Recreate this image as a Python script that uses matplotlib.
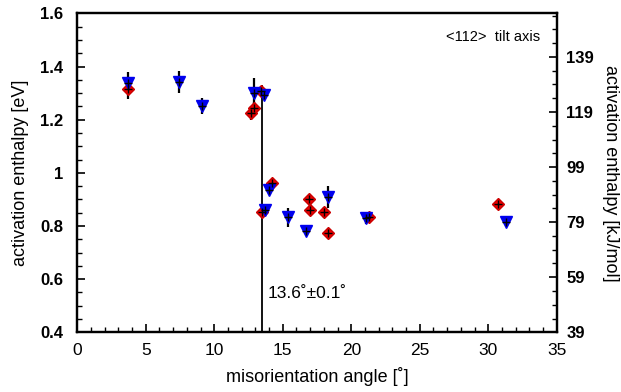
import matplotlib
matplotlib.use("Agg")
import matplotlib.pyplot as plt
from matplotlib.ticker import MultipleLocator, FixedLocator

plt.rcParams['font.family'] = ['Liberation Sans', 'DejaVu Sans']

# data
red_x = [3.7, 12.7, 12.9, 13.4, 14.2, 13.5, 16.9, 17.0, 18.0, 18.3, 21.3, 30.7]
red_y = [1.314, 1.224, 1.245, 1.309, 0.962, 0.851, 0.901, 0.862, 0.851, 0.772, 0.834, 0.882]
red_err = [0.037, 0.026, 0.02, 0.015, 0.01, 0.02, 0.015, 0.02, 0.02, 0.015, 0.01, 0.015]

blue_x = [3.7, 7.4, 9.1, 12.9, 13.6, 14.0, 13.7, 15.4, 16.7, 18.3, 21.1, 31.3]
blue_y = [1.339, 1.343, 1.253, 1.299, 1.293, 0.935, 0.862, 0.833, 0.782, 0.910, 0.829, 0.816]
blue_err = [0.04, 0.041, 0.03, 0.057, 0.01, 0.01, 0.01, 0.035, 0.01, 0.041, 0.02, 0.01]

transition_x = 13.5
transition_top = 1.325
EV_TO_KJ = 96.485

fig = plt.figure(figsize=(6.21, 3.92), dpi=100)
ax = fig.add_axes([0.1245, 0.1523, 0.772, 0.8135])

ax.plot([transition_x, transition_x], [0.4, transition_top], color='black', lw=1.3, zorder=1)

ax.errorbar(red_x, red_y, yerr=red_err, fmt='D', color='#ee0000', mec='#cc0000',
            ms=6.5, ecolor='black', elinewidth=1.6, capsize=0, zorder=3)
ax.errorbar(blue_x, blue_y, yerr=blue_err, fmt='v', color='#0000ee', mec='#0000ee',
            ms=8.5, ecolor='black', elinewidth=1.6, capsize=0, zorder=3)
ax.plot(red_x + blue_x, red_y + blue_y, '+', color='black', ms=6, mew=1.0, zorder=4)

ax.set_xlim(0, 35)
ax.set_ylim(0.4, 1.6)
ax.xaxis.set_major_locator(MultipleLocator(5))
ax.xaxis.set_minor_locator(MultipleLocator(1))
ax.yaxis.set_minor_locator(MultipleLocator(0.05))
ax.set_yticks([0.4, 0.6, 0.8, 1.0, 1.2, 1.4, 1.6])
ax.set_yticklabels(['0.4', '0.6', '0.8', '1', '1.2', '1.4', '1.6'], fontweight='bold')
ax.tick_params(which='both', direction='in', top=False, right=False)
ax.tick_params(which='major', length=6, width=1.2)
ax.tick_params(which='minor', length=3.5, width=1.0)
ax.tick_params(axis='y', labelsize=12, pad=10)
ax.tick_params(axis='x', labelsize=12.5, pad=8)
for s in ax.spines.values():
    s.set_linewidth(1.6)

ax.set_xlabel("misorientation angle [˚]", fontsize=13, labelpad=6)
ax.set_ylabel("activation enthalpy [eV]", fontsize=13, labelpad=8)

ax2 = ax.twinx()
ax2.set_ylim(0.4 * EV_TO_KJ, 1.6 * EV_TO_KJ)
kj_ticks = [0.4 * EV_TO_KJ + 20 * k for k in range(6)]
ax2.yaxis.set_major_locator(FixedLocator(kj_ticks))
ax2.set_yticklabels([str(round(t)) for t in kj_ticks], fontweight='bold')
ax2.yaxis.set_minor_locator(FixedLocator([0.4 * EV_TO_KJ + 5 * k for k in range(24)]))
ax2.tick_params(which='both', direction='in', labelsize=12, pad=7)
ax2.tick_params(which='major', length=6, width=1.2)
ax2.tick_params(which='minor', length=3.5, width=1.0)
ax2.set_ylabel("activation enthalpy [kJ/mol]", fontsize=13, rotation=270, labelpad=18)
for s in ax2.spines.values():
    s.set_linewidth(1.6)

ax.text(0.966, 0.925, "<112>  tilt axis", transform=ax.transAxes, ha='right', va='center', fontsize=10.5)
ax.text(13.9, 0.547, "13.6˚±0.1˚", ha='left', va='center', fontsize=12.5)

fig.savefig("out.png", dpi=100)
